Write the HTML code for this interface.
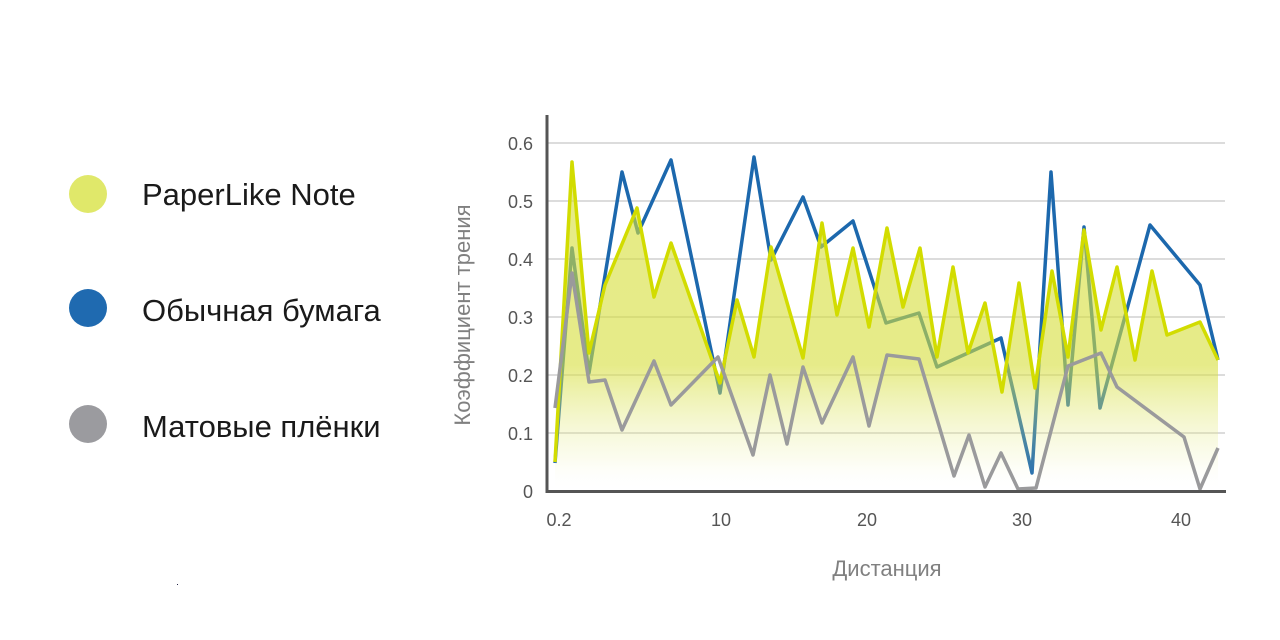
<!DOCTYPE html>
<html><head><meta charset="utf-8"><style>
html,body{margin:0;padding:0;background:#fff;}
svg{display:block;}
text{font-family:"Liberation Sans",sans-serif;}
</style></head><body>
<svg width="1280" height="640" viewBox="0 0 1280 640" xmlns="http://www.w3.org/2000/svg">
<defs>
<linearGradient id="fg" gradientUnits="userSpaceOnUse" x1="0" y1="160" x2="0" y2="491">
<stop offset="0" stop-color="#d6de3a" stop-opacity="0.62"/>
<stop offset="0.62" stop-color="#d6de3a" stop-opacity="0.6"/>
<stop offset="0.9" stop-color="#e6ec90" stop-opacity="0.15"/>
<stop offset="1" stop-color="#ffffff" stop-opacity="0"/>
</linearGradient>
</defs>
<rect width="1280" height="640" fill="#fff"/>
<circle cx="88" cy="194" r="19" fill="#e0e86a"/>
<circle cx="88" cy="308" r="19" fill="#1f6ab0"/>
<circle cx="88" cy="424" r="19" fill="#9b9b9f"/>
<text x="142" y="205" font-size="31" fill="#1a1a1a">PaperLike Note</text>
<text x="142" y="321" font-size="31" fill="#1a1a1a">Обычная бумага</text>
<text x="142" y="437" font-size="31" fill="#1a1a1a">Матовые плёнки</text>
<rect x="177" y="584" width="1" height="1" fill="#224"/>
<g stroke="#dcdcdc" stroke-width="2">
<line x1="548" y1="143" x2="1225" y2="143"/>
<line x1="548" y1="201" x2="1225" y2="201"/>
<line x1="548" y1="259" x2="1225" y2="259"/>
<line x1="548" y1="317" x2="1225" y2="317"/>
<line x1="548" y1="375" x2="1225" y2="375"/>
<line x1="548" y1="433" x2="1225" y2="433"/>
</g>
<polyline fill="none" stroke="#1c68ad" stroke-width="3.5" stroke-linejoin="round" points="555,463 572,248 589,373 622,172 638,233 671,160 720,393 754,157 771,260 803,197 821,247 853,221 886,323 919,313 937,367 968,353 1001,338 1032,473 1051,172 1068,405 1084,227 1100,408 1150,225 1200,285 1218,360"/>
<polygon fill="url(#fg)" points="555,491 555,462 572,162 589,353 605,285 637,208 654,297 671,243 720,383 737,300 754,357 771,247 803,358 822,223 837,315 853,248 869,327 887,228 903,307 920,248 937,357 953,267 968,353 985,303 1002,392 1019,283 1035,388 1052,271 1068,357 1084,230 1101,330 1117,267 1135,360 1152,271 1167,335 1200,322 1218,360 1218,491"/>
<polyline fill="none" stroke="#d2dc00" stroke-width="3.5" stroke-linejoin="round" points="555,462 572,162 589,353 605,285 637,208 654,297 671,243 720,383 737,300 754,357 771,247 803,358 822,223 837,315 853,248 869,327 887,228 903,307 920,248 937,357 953,267 968,353 985,303 1002,392 1019,283 1035,388 1052,271 1068,357 1084,230 1101,330 1117,267 1135,360 1152,271 1167,335 1200,322 1218,360"/>
<polyline fill="none" stroke="#9a9a9c" stroke-width="3.5" stroke-linejoin="round" points="555,408 572,273 589,382 605,380 622,430 654,361 671,405 718,357 753,455 770,375 787,444 803,367 822,423 853,357 869,426 887,355 919,359 954,476 969,435 985,487 1001,453 1018,489 1036,488 1068,366 1101,353 1117,387 1184,437 1200,489 1218,448"/>
<line x1="547" y1="115" x2="547" y2="493" stroke="#555" stroke-width="3"/>
<line x1="546" y1="491.5" x2="1226" y2="491.5" stroke="#555" stroke-width="3"/>
<g font-size="18" fill="#555" text-anchor="end">
<text x="533" y="150">0.6</text>
<text x="533" y="208">0.5</text>
<text x="533" y="266">0.4</text>
<text x="533" y="324">0.3</text>
<text x="533" y="382">0.2</text>
<text x="533" y="440">0.1</text>
<text x="533" y="498">0</text>
</g>
<g font-size="18" fill="#555" text-anchor="middle">
<text x="559" y="526">0.2</text>
<text x="721" y="526">10</text>
<text x="867" y="526">20</text>
<text x="1022" y="526">30</text>
<text x="1181" y="526">40</text>
</g>
<text x="887" y="576" font-size="22" fill="#808080" text-anchor="middle">Дистанция</text>
<text transform="translate(470,315) rotate(-90)" font-size="22" fill="#808080" text-anchor="middle">Коэффициент трения</text>
</svg>
</body></html>
